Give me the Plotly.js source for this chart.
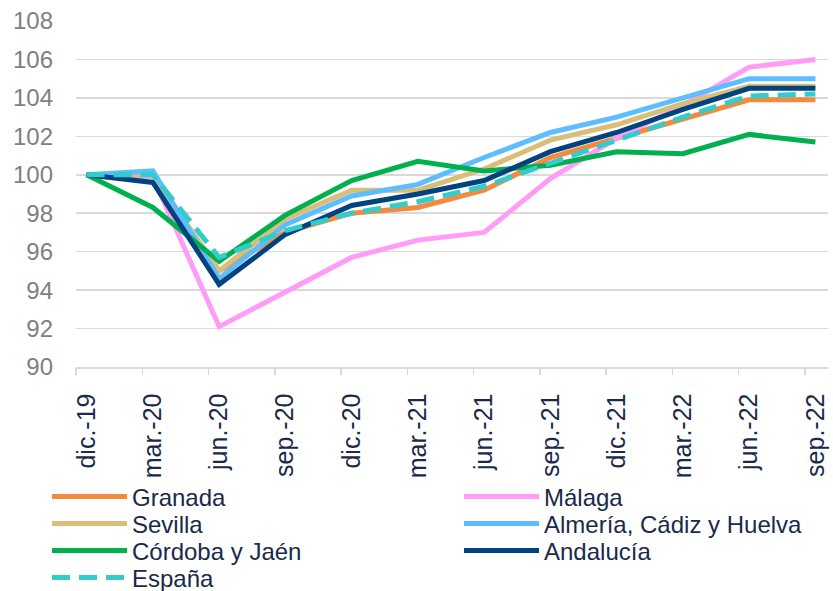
<!DOCTYPE html>
<html>
<head>
<meta charset="utf-8">
<script src="https://cdn.plot.ly/plotly-3.0.1.min.js"></script>
<style>html,body{margin:0;padding:0;background:#fff;}#chart{width:833px;height:591px;}</style>
</head>
<body>
<div id="chart"></div>
<script>
const months = ['dic.-19','mar.-20','jun.-20','sep.-20','dic.-20','mar.-21','jun.-21','sep.-21','dic.-21','mar.-22','jun.-22','sep.-22'];
const granada   = [100, 99.9, 95.0, 97.0, 98.0, 98.3, 99.2, 100.9, 101.9, 102.9, 103.9, 103.9];
const malaga    = [100, 99.9, 92.1, 93.9, 95.7, 96.6, 97.0, 99.8, 101.9, 103.6, 105.6, 106.0];
const sevilla   = [100, 100.0, 95.0, 97.7, 99.2, 99.2, 100.3, 101.8, 102.6, 103.7, 104.6, 104.6];
const almeria   = [100, 100.2, 94.6, 97.4, 98.9, 99.5, 100.9, 102.2, 103.0, 104.0, 105.0, 105.0];
const cordoba   = [100, 98.3, 95.5, 97.9, 99.7, 100.7, 100.2, 100.5, 101.2, 101.1, 102.1, 101.7];
const andalucia = [100, 99.6, 94.3, 96.9, 98.4, 99.0, 99.7, 101.2, 102.2, 103.4, 104.5, 104.5];
const espana    = [100, 100.0, 95.7, 97.1, 98.0, 98.6, 99.4, 100.6, 101.8, 103.0, 104.1, 104.2];
const yTicks = [90, 92, 94, 96, 98, 100, 102, 104, 106, 108];

const idx = months.map((_, i) => i);
const tickPos = months.map((_, i) => i - 0.16);

function tr(name, y, color, legend, dash) {
  return {x: idx, y: y, name: name, type: 'scatter', mode: 'lines',
    line: {color: color, width: 5, dash: dash || 'solid'}, legend: legend, hoverinfo: 'skip'};
}
const data = [
  tr('Granada', granada, '#F58A3C', 'legend'),
  tr('Málaga', malaga, '#FF9CF8', 'legend2'),
  tr('Sevilla', sevilla, '#D8BE78', 'legend3'),
  tr('Almería, Cádiz y Huelva', almeria, '#5CBEFF', 'legend4'),
  tr('Córdoba y Jaén', cordoba, '#00B04F', 'legend5'),
  tr('Andalucía', andalucia, '#00437F', 'legend6'),
  tr('España', espana, '#33CCCC', 'legend7', '18px,9px'),
  {x: tickPos, y: tickPos.map(() => 90), xaxis: 'x2', mode: 'none', type: 'scatter', showlegend: false, hoverinfo: 'skip'}
];

const legendFont = {family: 'Liberation Sans, Arial, sans-serif', size: 24, color: '#1A2A4A'};
function leg(xpx, ypx) {
  return {xref: 'container', yref: 'container', x: xpx / 833, y: 1 - ypx / 591,
    xanchor: 'left', yanchor: 'middle', orientation: 'v', font: legendFont,
    itemwidth: 75, bgcolor: 'rgba(0,0,0,0)', borderwidth: 0};
}
const layout = {
  width: 833, height: 591,
  margin: {l: 76, r: 5, t: 21, b: 224, autoexpand: false},
  paper_bgcolor: '#fff', plot_bgcolor: '#fff',
  showlegend: true,
  xaxis: {
    range: [-0.16, 11.19], tickvals: idx, ticktext: months, tickangle: -90,
    showgrid: false, zeroline: false, ticks: '', showline: true, linecolor: '#D9D9D9', linewidth: 1.5,
    tickfont: {family: 'Liberation Sans, Arial, sans-serif', size: 25, color: '#1A2A4A'},
    ticklabelstandoff: 15, automargin: false
  },
  xaxis2: {
    overlaying: 'x', range: [-0.16, 11.19], tickvals: tickPos, showticklabels: false,
    ticks: 'outside', ticklen: 7, tickcolor: '#D9D9D9', tickwidth: 1.5,
    showgrid: false, zeroline: false, showline: false, anchor: 'y', automargin: false
  },
  yaxis: {
    range: [90, 108], tickvals: yTicks, showgrid: true, gridcolor: '#D9D9D9', gridwidth: 1.5,
    zeroline: false, ticks: '', showline: false, automargin: false,
    tickfont: {family: 'Liberation Sans, Arial, sans-serif', size: 24, color: '#808080'},
    ticklabelstandoff: 22
  },
  legend: leg(47, 497),
  legend2: leg(459, 497),
  legend3: leg(47, 524),
  legend4: leg(459, 524),
  legend5: leg(47, 551),
  legend6: leg(459, 551),
  legend7: leg(47, 578)
};
Plotly.newPlot('chart', data, layout, {displayModeBar: false, staticPlot: true});
</script>
</body>
</html>
